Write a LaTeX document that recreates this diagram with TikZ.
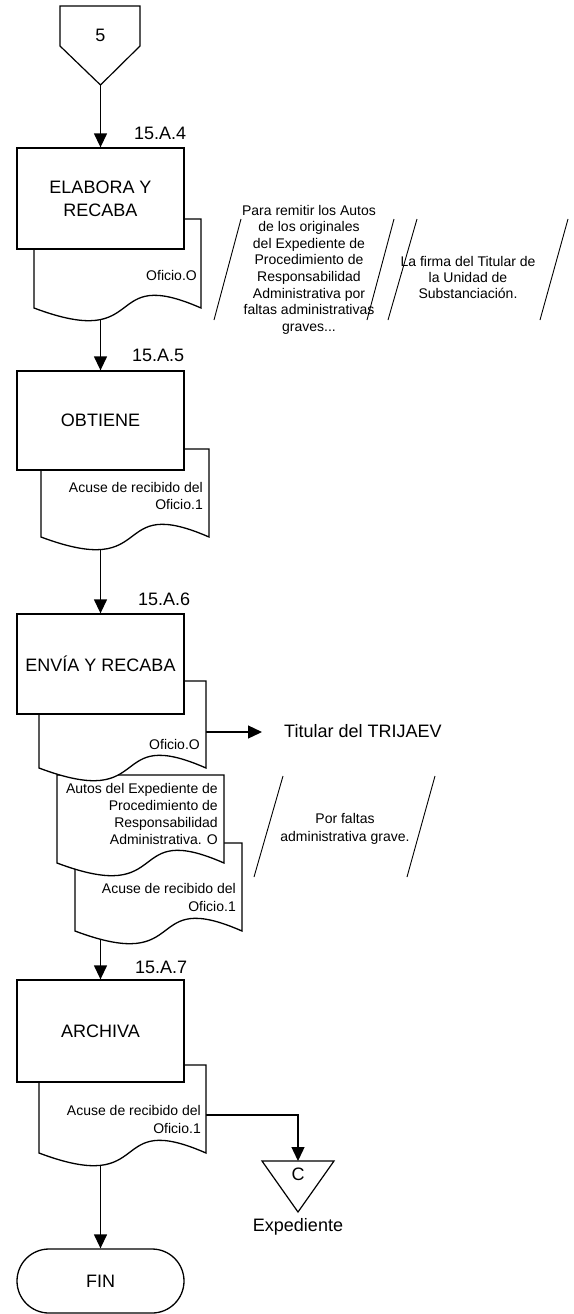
\documentclass[tikz,border=0pt]{standalone}
\usepackage{fontspec}
\setmainfont{Liberation Sans}
\usetikzlibrary{arrows.meta,backgrounds}

% document symbol: straight top and sides, wavy bottom edge
\newcommand\docshape[4]{%
  \draw[docline] (#1,#4) -- (#1,#3) -- (#2,#3) -- (#2,#4)
    .. controls ({#1+0.4*(#2-#1)},{#4-44}) and ({#1+0.7*(#2-#1)},{#4+44}) .. (#1,#4) -- cycle;}

\begin{document}
\begin{tikzpicture}[x=1pt,y=-1pt,line join=miter,
  bigtxt/.style={font=\fontsize{18}{23}\selectfont},
  smalltxt/.style={font=\fontsize{14}{17}\selectfont},
  docline/.style={line width=1.3pt,fill=white},
  procbox/.style={draw,line width=1.3pt,fill=white,minimum width=167pt,bigtxt,align=center,inner sep=0pt},
  flow/.style={line width=1.3pt,-{Triangle[length=14pt,width=13pt]}},
  slash/.style={line width=0.9pt},
  doctext/.style={smalltxt,align=right,anchor=north east,inner sep=0pt},
  notetext/.style={smalltxt,align=center,anchor=north,inner sep=0pt},
  steplabel/.style={bigtxt,anchor=base west,inner sep=0pt},
]
\useasboundingbox (0,0) rectangle (573,1314);

% off-page connector 5
\draw[line width=1.2pt,fill=white] (60,6) -- (140,6) -- (140,46) -- (100.5,85) -- (60,46) -- cycle;
\node[bigtxt,anchor=base,inner sep=0pt] (c5) at (100.5,42) {5};
\coordinate (c5tip) at (100.5,85);

% 15.A.4
\node[steplabel] (s4) at (134,139) {15.A.4};
\docshape{34}{201}{219}{308}
\node[doctext,anchor=base east] (d1t) at (197,280) {Oficio.O};
\coordinate (d1c) at (100.5,280);
\node[procbox,minimum height=101pt] (b1) at (100.5,198.5) {ELABORA Y\\RECABA};

% annotations of 15.A.4
\draw[slash] (241,219) -- (214,320);
\draw[slash] (394,219) -- (367,320);
\node[notetext,font=\fontsize{14}{16.6}\selectfont] (n1) at (309,204.8)
  {Para remitir los Autos\\de los originales\\del Expediente de\\Procedimiento de\\Responsabilidad\\Administrativa por\\faltas administrativas\\graves...};
\draw[slash] (417,219) -- (388,320);
\draw[slash] (568,219) -- (540,320);
\node[notetext,font=\fontsize{14}{16}\selectfont] (n2) at (468,255.8)
  {La firma del Titular de\\la Unidad de\\Substanciación.};

% 15.A.5
\node[steplabel] (s5) at (132,361) {15.A.5};
\docshape{41}{209}{449}{537}
\node[doctext] (d2t) at (203,481.8) {Acuse de recibido del\\Oficio.1};
\coordinate (d2c) at (100.5,510);
\node[procbox,minimum height=99pt] (b2) at (100.5,420.5) {OBTIENE};

% 15.A.6
\node[steplabel] (s6) at (138,605) {15.A.6};
\docshape{75}{242}{843}{931}
\node[doctext,font=\fontsize{14}{18}\selectfont] (d5t) at (236,882.8) {Acuse de recibido del\\Oficio.1};
\docshape{57}{224}{775}{863}
\node[doctext] (d4t) at (218,782.8) {Autos del Expediente de\\Procedimiento de\\Responsabilidad\\Administrativa. O};
\docshape{39}{206}{681}{768}
\node[doctext,anchor=base east] (d3t) at (200,749) {Oficio.O};
\coordinate (d3o) at (206,732);
\coordinate (d5c) at (100.5,910);
\node[procbox,minimum height=100pt] (b3) at (100.5,664) {ENVÍA Y RECABA};
\node[bigtxt,anchor=base west,inner sep=0pt] (tit) at (284,737) {Titular del TRIJAEV};
\coordinate (titin) at (262,732);

% annotation of 15.A.6
\draw[slash] (283,776) -- (254,877);
\draw[slash] (435,776) -- (407,877);
\node[notetext,font=\fontsize{14}{18}\selectfont] (n3) at (345,812.8)
  {Por faltas\\administrativa grave.};

% 15.A.7
\node[steplabel] (s7) at (135,973) {15.A.7};
\docshape{39}{206}{1065}{1153}
\node[doctext,font=\fontsize{14}{18}\selectfont] (d6t) at (201,1104.8) {Acuse de recibido del\\Oficio.1};
\coordinate (d6c) at (100.5,1130);
\coordinate (d6o) at (206,1115);
\node[procbox,minimum height=102pt] (b4) at (100.5,1031) {ARCHIVA};

% file connector C
\draw[line width=1.2pt,fill=white] (262,1161) -- (334,1161) -- (298,1212) -- cycle;
\coordinate (ctop) at (298,1161);
\node[bigtxt,anchor=base,inner sep=0pt] (cC) at (298,1180) {C};
\node[bigtxt,anchor=base,inner sep=0pt] (exp) at (298,1231) {Expediente};

% terminator
\node[draw,line width=1.3pt,fill=white,rounded corners=32pt,minimum width=167pt,minimum height=64pt,bigtxt,inner sep=0pt] (fin) at (100.5,1281) {FIN};

% flow lines
\begin{scope}[on background layer]
  \draw[flow] (c5tip) -- (b1.north);
  \draw[flow] (d1c) -- (b2.north);
  \draw[flow] (d2c) -- (b3.north);
  \draw[flow] (d3o) -- (titin);
  \draw[flow] (d5c) -- (b4.north);
  \draw[flow] (d6o) -| (ctop);
  \draw[flow] (d6c) -- (fin.north);
\end{scope}
\end{tikzpicture}
\end{document}
